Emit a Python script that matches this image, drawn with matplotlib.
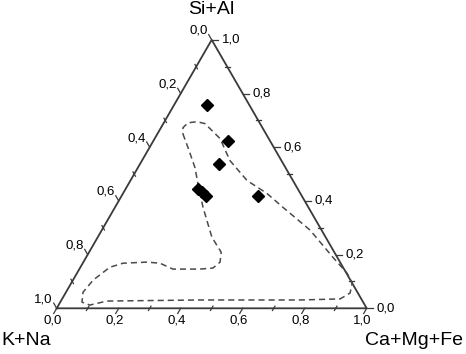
import numpy as np
import matplotlib
matplotlib.use("Agg")
import matplotlib.pyplot as plt

plt.rcParams['font.family'] = ['Liberation Sans', 'DejaVu Sans']

# sample compositions: fraction of Ca+Mg+Fe and Si+Al (K+Na = remainder)
cmf = [0.105, 0.241, 0.256, 0.234, 0.252, 0.272, 0.440]
sial = [0.757, 0.622, 0.537, 0.445, 0.433, 0.420, 0.420]

# dashed field outline, same two coordinates
field_cmf = [0.082, 0.124, 0.184, 0.223, 0.284, 0.368, 0.426, 0.441, 0.429,
             0.389, 0.302, 0.249, 0.205, 0.130, 0.095, 0.065, 0.055, 0.070,
             0.101, 0.148, 0.447, 0.770, 0.897, 0.918, 0.906, 0.871, 0.796,
             0.672, 0.542, 0.464, 0.376, 0.284, 0.211, 0.170, 0.134, 0.105,
             0.078, 0.071, 0.082]
field_sial = [0.650, 0.599, 0.524, 0.465, 0.376, 0.265, 0.209, 0.172, 0.150,
              0.146, 0.146, 0.168, 0.172, 0.168, 0.153, 0.105, 0.060, 0.023,
              0.012, 0.027, 0.031, 0.031, 0.035, 0.057, 0.094, 0.131, 0.190,
              0.291, 0.376, 0.428, 0.476, 0.550, 0.632, 0.662, 0.688, 0.695,
              0.691, 0.673, 0.650]

tick_vals = [0.0, 0.2, 0.4, 0.6, 0.8, 1.0]
minor_vals = [0.1, 0.3, 0.5, 0.7, 0.9]

H = np.sqrt(3) / 2
PX = 1 / 310   # one pixel in data units


def xy(c, s):
    c = np.asarray(c)
    s = np.asarray(s)
    return c + s / 2, s * H


def fmt(v):
    return ("%.1f" % v).replace(".", ",")


fig = plt.figure(figsize=(4.66, 3.54), dpi=100)
ax = fig.add_axes([0, 0, 1, 1])
ax.set_xlim(-56.7 * PX, (466 - 56.7) * PX)
ax.set_ylim(-45.7 * PX, (354 - 45.7) * PX)
ax.axis("off")

# triangle frame
tx, ty = xy([0, 1, 0, 0], [0, 0, 1, 0])
ax.plot(tx, ty, color="#3a3a3a", lw=1.3, solid_joinstyle="miter", zorder=2)

L = 6 * PX
m = 2.5 * PX
fs = 9.5
tick_kw = dict(color="#3a3a3a", lw=0.9)
# bottom axis (Ca+Mg+Fe), ticks along constant-C direction
d = np.array([-0.5, -H])
for v in tick_vals:
    x0, y0 = xy(v, 0)
    ax.plot([x0, x0 + d[0] * L], [y0, y0 + d[1] * L], **tick_kw)
    ax.text(x0 + d[0] * L - 1 * PX, y0 + d[1] * L - 1 * PX, fmt(v),
            ha="center", va="top", fontsize=fs)
for v in minor_vals:
    x0, y0 = xy(v, 0)
    ax.plot([x0 - d[0] * m, x0 + d[0] * m], [y0 - d[1] * m, y0 + d[1] * m], **tick_kw)

# right axis (Si+Al), horizontal ticks
for v in tick_vals:
    x0, y0 = xy(1 - v, v)
    ax.plot([x0, x0 + L], [y0, y0], **tick_kw)
    ax.text(x0 + L + 4 * PX, y0, fmt(v), ha="left", va="center", fontsize=fs)
for v in minor_vals:
    x0, y0 = xy(1 - v, v)
    ax.plot([x0 - m, x0 + m], [y0, y0], **tick_kw)

# left axis (K+Na), 0 at top, 1 at bottom
d = np.array([-0.5, H])
for v in tick_vals:
    x0, y0 = xy(0, 1 - v)
    ax.plot([x0, x0 + d[0] * L], [y0, y0 + d[1] * L], **tick_kw)
    ax.text(x0 + d[0] * L - 1 * PX, y0 + d[1] * L - 2 * PX, fmt(v),
            ha="right", va="bottom", fontsize=fs)
for v in minor_vals:
    x0, y0 = xy(0, 1 - v)
    ax.plot([x0 - d[0] * m, x0 + d[0] * m], [y0 - d[1] * m, y0 + d[1] * m], **tick_kw)

# axis titles
ax.text(0.5, (354 - 45.7 - 10) * PX, "Si+Al", ha="center", va="center", fontsize=14)
ax.text(-55 * PX, -32 * PX, "K+Na", ha="left", va="center", fontsize=14)
ax.text(308 * PX, -32 * PX, "Ca+Mg+Fe", ha="left", va="center", fontsize=14)

# field outline
fx, fy = xy(field_cmf, field_sial)
ax.plot(fx, fy, color="#4a4a4a", lw=1.1, ls=(0, (4, 2.6)), zorder=3)

# samples
px, py = xy(cmf, sial)
ax.plot(px, py, "D", color="black", ms=6.5, ls="none", zorder=4)

fig.savefig("out.png", dpi=100)
